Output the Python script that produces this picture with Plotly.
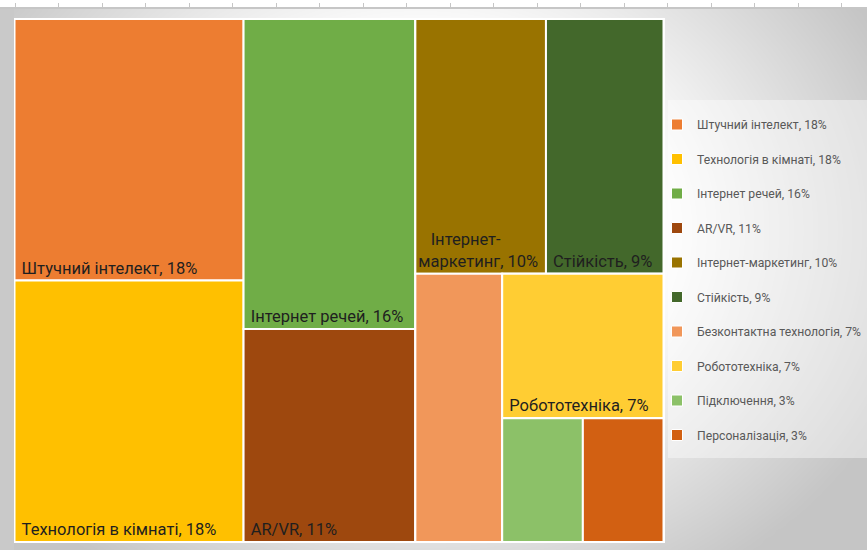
import numpy as np
import plotly.graph_objects as go

# Topic shares (percent) shown in the treemap and legend
names = [
    "Штучний інтелект",
    "Технологія в кімнаті",
    "Інтернет речей",
    "AR/VR",
    "Інтернет-маркетинг",
    "Стійкість",
    "Безконтактна технологія",
    "Робототехніка",
    "Підключення",
    "Персоналізація",
]
shares = [18, 18, 16, 11, 10, 9, 7, 7, 3, 3]
colors = [
    "#ED7D31", "#FFC000", "#70AD47", "#9E480E", "#997300",
    "#43682B", "#F1975A", "#FFCD33", "#8CC168", "#D26012",
]
# tiles that carry an in-tile caption
captioned = [True, True, True, True, True, True, False, True, False, False]
# line breaks used inside narrow tiles (first line roughly centred)
wrapped = {"Інтернет-маркетинг": "\u00a0\u00a0Інтернет-<br>маркетинг"}

# nesting of the tiles (indices into the lists above); alternating
# dice/slice packing by depth gives the column/row arrangement
nesting = [[0, 1], [2, 3], [[4, 5], [6, [7, [8, 9]]]]]

FONT = "Roboto, Liberation Sans, sans-serif"
W, H = 867, 550

ids, parents, values, texts, fills = [], [], [], [], []


def total(node):
    if isinstance(node, list):
        return sum(total(c) for c in node)
    return shares[node]


def add(node, parent, gid):
    if isinstance(node, list):
        ids.append(gid)
        parents.append(parent)
        values.append(total(node))
        texts.append("")
        fills.append("#ffffff")
        for k, child in enumerate(node):
            add(child, gid, f"{gid}.{k}")
    else:
        ids.append(names[node])
        parents.append(parent)
        values.append(shares[node])
        label = wrapped.get(names[node], names[node])
        texts.append(f"\u00a0{label}, {shares[node]}%" if captioned[node] else "")
        fills.append(colors[node])


add(nesting, "", "root")

fig = go.Figure()

# soft grey vignette behind everything
gx = np.linspace(0, W, 88)
gy = np.linspace(9, H, 56)
XX, YY = np.meshgrid(gx, gy)
rr = np.sqrt(((XX - 420) / 470) ** 2 + ((YY - 230) / 380) ** 2)
shade = np.clip((rr - 0.5) / 0.6, 0, 1)
fig.add_trace(go.Heatmap(
    x=gx, y=gy, z=shade, zmin=0, zmax=1, zsmooth="best",
    colorscale=[[0, "#ffffff"], [1, "#c5c5c5"]],
    showscale=False, hoverinfo="skip",
))

fig.add_trace(go.Treemap(
    ids=ids,
    labels=ids,
    parents=parents,
    values=values,
    branchvalues="total",
    sort=False,
    text=texts,
    textinfo="text",
    textposition="bottom left",
    textfont=dict(family=FONT, size=16.5, color="#1f1f1f"),
    marker=dict(colors=fills, line=dict(color="#ffffff", width=2),
                pad=dict(t=0, l=0, r=0, b=0)),
    tiling=dict(packing="slice-dice", pad=0),
    pathbar=dict(visible=False),
    hoverinfo="skip",
    domain=dict(x=[14.5 / W, 663.5 / W], y=[8 / H, 531 / H]),
))

# legend entries
for n, s, c in zip(names, shares, colors):
    fig.add_trace(go.Scatter(
        x=[None], y=[None], mode="markers", name=f"{n}, {s}%",
        legendgroup=n,
        marker=dict(symbol="square", size=11, color=c,
                    line=dict(color="#ffffff", width=1)),
        hoverinfo="skip",
    ))

fig.update_layout(
    width=W, height=H,
    margin=dict(l=0, r=0, t=0, b=0, autoexpand=False),
    paper_bgcolor="#ffffff",
    plot_bgcolor="#ffffff",
    showlegend=True,
    legend=dict(
        x=1, xanchor="right", y=1 - 110 / H, yanchor="top",
        bgcolor="rgba(0,0,0,0)", font=dict(family=FONT, size=12.2, color="#595959"),
        tracegroupgap=15.5, itemclick=False, itemdoubleclick=False,
    ),
    xaxis=dict(
        range=[0, W], domain=[0, 1], side="top", showline=True,
        linecolor="#c6c6c6", linewidth=2, ticks="outside", ticklen=4,
        tickcolor="#c6c6c6", tickwidth=1, tickmode="linear", tick0=15,
        dtick=43.5, showticklabels=False, showgrid=False, zeroline=False,
        fixedrange=True,
    ),
    yaxis=dict(
        range=[H, 9], domain=[0, 541 / H], showline=False, showgrid=False,
        zeroline=False, showticklabels=False, ticks="", fixedrange=True,
    ),
    shapes=[
        dict(type="rect", xref="paper", yref="paper", layer="above",
             x0=0, x1=14 / W, y0=0, y1=541 / H,
             fillcolor="#c9c9c9", line=dict(width=0)),
        dict(type="rect", xref="paper", yref="paper", layer="above",
             x0=668 / W, x1=1, y0=1 - 458 / H, y1=1 - 100 / H,
             fillcolor="rgba(255,255,255,0.4)", line=dict(width=0)),
    ],
)

fig.write_html("out.html")
